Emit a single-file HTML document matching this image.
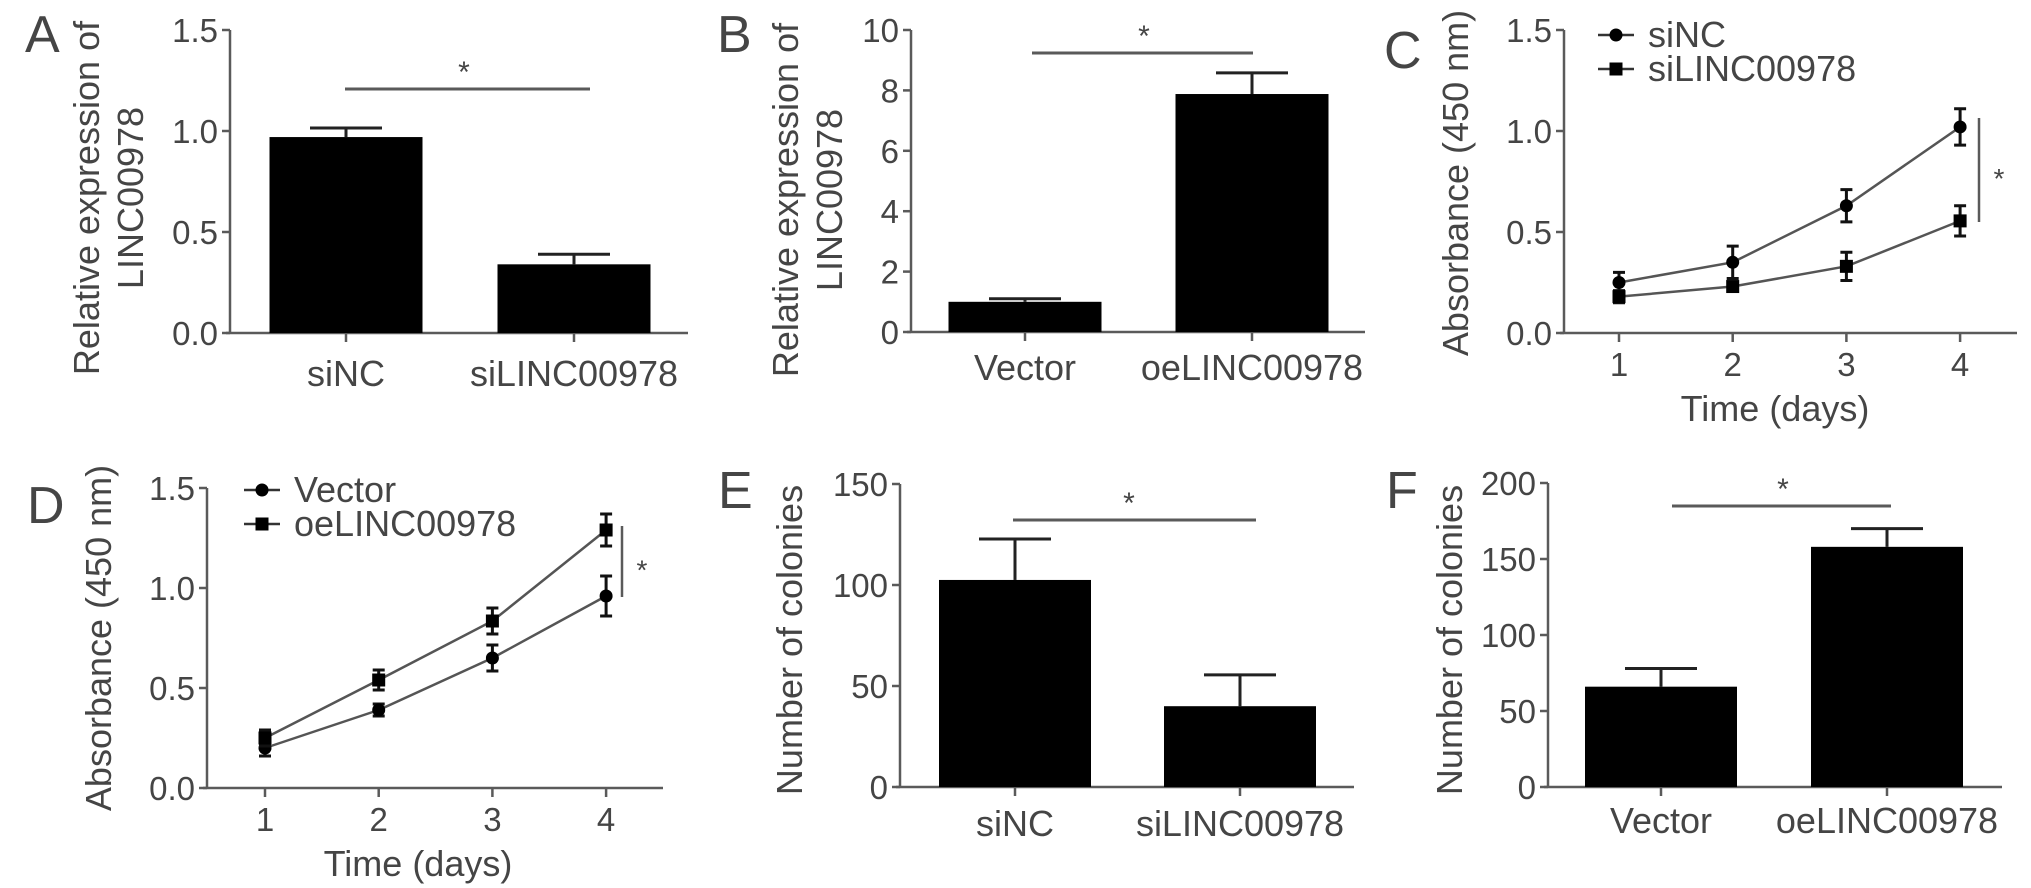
<!DOCTYPE html>
<html><head><meta charset="utf-8"><style>
html,body{margin:0;padding:0;background:#fff}
svg{display:block}
text{font-family:"Liberation Sans",sans-serif;fill:#454545}
</style></head><body>
<svg id="fig" width="2031" height="888" viewBox="0 0 2031 888" xmlns="http://www.w3.org/2000/svg"></svg>
<script>
// Panel A
const aCats = ["siNC", "siLINC00978"];
const aVals = [0.97, 0.34];
const aErrs = [0.045, 0.05];
const aTicks = ["0.0", "0.5", "1.0", "1.5"];
// Panel B
const bCats = ["Vector", "oeLINC00978"];
const bVals = [1.0, 7.88];
const bErrs = [0.1, 0.7];
const bTicks = ["0", "2", "4", "6", "8", "10"];
// Panel C
const cDays = ["1", "2", "3", "4"];
const cSiNC = [0.25, 0.35, 0.63, 1.02];
const cSiNCErr = [0.05, 0.08, 0.08, 0.09];
const cSiLINC = [0.18, 0.23, 0.33, 0.555];
const cSiLINCErr = [0.03, 0.02, 0.07, 0.075];
const cTicks = ["0.0", "0.5", "1.0", "1.5"];
// Panel D
const dDays = ["1", "2", "3", "4"];
const dVector = [0.20, 0.39, 0.65, 0.96];
const dVectorErr = [0.04, 0.03, 0.065, 0.1];
const dOe = [0.25, 0.54, 0.835, 1.29];
const dOeErr = [0.04, 0.05, 0.065, 0.08];
const dTicks = ["0.0", "0.5", "1.0", "1.5"];
// Panel E
const eCats = ["siNC", "siLINC00978"];
const eVals = [102.5, 40];
const eErrs = [20.3, 15.5];
const eTicks = ["0", "50", "100", "150"];
// Panel F
const fCats = ["Vector", "oeLINC00978"];
const fVals = [66, 158];
const fErrs = [12, 12];
const fTicks = ["0", "50", "100", "150", "200"];

const NS = "http://www.w3.org/2000/svg";
const svg = document.getElementById("fig");
function mk(tag, attrs, parent, txt){
  const e = document.createElementNS(NS, tag);
  for (const k in attrs) e.setAttribute(k, attrs[k]);
  if (txt !== undefined) e.textContent = txt;
  (parent || svg).appendChild(e);
  return e;
}
const AX = "#5a5a5a";
const FS = 36;

function axesY(g, p, ticks){
  const ax = mk("line", {x1:p.ax, y1:p.y0, x2:p.ax, y2:p.yTop, stroke:AX, "stroke-width":2.5}, g);
  
  
  ticks.forEach((t, i) => {
    const v = parseFloat(t);
    const y = p.y(v);
    const tk = mk("line", {x1:p.ax-8, y1:y, x2:p.ax, y2:y, stroke:AX, "stroke-width":2.5}, g);
    
    
    const tl = mk("text", {x:p.ax-12, y:y+12, "text-anchor":"end", "font-size":33}, g, t);
    
    
  });
}
function yTitle(g, x, cy, lines){
  lines.forEach((l, i) => {
    const t = mk("text", {x:0, y:0, "text-anchor":"middle", "font-size":FS,
      transform:`translate(${x + i*44},${cy}) rotate(-90)`}, g, l);
    
    
  });
}
function letter(g, x, y, s){
  const t = mk("text", {x:x, y:y, "font-size":52}, g, s);
  
  
}
function sig(g, x1, x2, y, sx){
  const l = mk("line", {x1:x1, y1:y, x2:x2, y2:y, stroke:AX, "stroke-width":3}, g);
  
  
  const s = mk("text", {x:sx, y:y-7, "text-anchor":"middle", "font-size":30}, g, "*");
  
  
}

function barPanel(p){
  const g = mk("g", {});
  
  
  const max = parseFloat(p.ticks[p.ticks.length-1]);
  p.y = v => p.y0 - v / max * (p.y0 - p.yTop);
  const xa = mk("line", {x1:p.ax-4, y1:p.y0, x2:p.xEnd, y2:p.y0, stroke:AX, "stroke-width":2.5}, g);
  
  
  p.cats.forEach((c, i) => {
    const cx = p.centers[i];
    const top = p.y(p.vals[i]);
    const eb = p.y(p.vals[i] + p.errs[i]);
    const el = mk("line", {x1:cx, y1:top, x2:cx, y2:eb, stroke:"#222", "stroke-width":3}, g);
    
    
    const cap = mk("line", {x1:cx-36, y1:eb, x2:cx+36, y2:eb, stroke:"#222", "stroke-width":3}, g);
    
    
    const r = mk("rect", {x:cx-p.bw/2, y:top, width:p.bw, height:p.y0-top, fill:"#000"}, g);
    
    
    const tk = mk("line", {x1:cx, y1:p.y0, x2:cx, y2:p.y0+9, stroke:AX, "stroke-width":2.5}, g);
    
    
    const tl = mk("text", {x:cx, y:p.labelY, "text-anchor":"middle", "font-size":FS}, g, c);
    
    
  });
  axesY(g, p, p.ticks);
  yTitle(g, p.titleX, p.titleY, p.title);
  letter(g, p.letterX, p.letterY, p.letter);
  sig(g, p.sig[0], p.sig[1], p.sig[2], p.sig[3]);
}

function linePanel(p){
  const g = mk("g", {});
  
  
  const max = parseFloat(p.ticks[p.ticks.length-1]);
  p.y = v => p.y0 - v / max * (p.y0 - p.yTop);
  const x = i => p.x1 + i * p.dx;
  const xa = mk("line", {x1:p.ax-4, y1:p.y0, x2:p.xEnd, y2:p.y0, stroke:AX, "stroke-width":2.5}, g);
  
  
  p.days.forEach((d, i) => {
    const tk = mk("line", {x1:x(i), y1:p.y0, x2:x(i), y2:p.y0+9, stroke:AX, "stroke-width":2.5}, g);
    
    
    const tl = mk("text", {x:x(i), y:p.y0+43, "text-anchor":"middle", "font-size":33}, g, d);
    
    
  });
  const xt = mk("text", {x:p.ax+211, y:p.y0+88, "text-anchor":"middle", "font-size":FS}, g, "Time (days)");
  
  
  axesY(g, p, p.ticks);
  yTitle(g, p.ax-96, p.y0-150, ["Absorbance (450 nm)"]);
  letter(g, p.ax-180, p.y0-265, p.letter);
  p.series.forEach((s, si) => {
    const pts = s.vals.map((v, i) => x(i) + "," + p.y(v)).join(" ");
    const pl = mk("polyline", {points:pts, fill:"none", stroke:"#555", "stroke-width":2.5}, g);
    
    
    s.vals.forEach((v, i) => {
      const yt = p.y(v + s.err[i]), yb = p.y(v - s.err[i]);
      const e = mk("path", {d:`M${x(i)},${yt}V${yb}M${x(i)-6},${yt}H${x(i)+6}M${x(i)-6},${yb}H${x(i)+6}`, stroke:"#111", "stroke-width":3, fill:"none"}, g);
      
      
      let m;
      if (s.marker === "circle") m = mk("circle", {cx:x(i), cy:p.y(v), r:6.5, fill:"#000"}, g);
      else m = mk("rect", {x:x(i)-6.5, y:p.y(v)-6.5, width:13, height:13, fill:"#000"}, g);
      
      
    });
    const ly = p.legY + si * 34;
    const ll = mk("line", {x1:p.legX-18, y1:ly, x2:p.legX+18, y2:ly, stroke:"#333", "stroke-width":2.5}, g);
    
    
    let lm;
    if (s.marker === "circle") lm = mk("circle", {cx:p.legX, cy:ly, r:6.5, fill:"#000"}, g);
    else lm = mk("rect", {x:p.legX-6.5, y:ly-6.5, width:13, height:13, fill:"#000"}, g);
    
    
    const lt = mk("text", {x:p.legX+32, y:ly+12, "font-size":FS}, g, s.label);
    
    
  });
  const sl = mk("line", {x1:p.sig[0], y1:p.sig[1], x2:p.sig[0], y2:p.sig[2], stroke:AX, "stroke-width":2.5}, g);
  
  
  const st = mk("text", {x:p.sig[0]+20, y:(p.sig[1]+p.sig[2])/2+18, "text-anchor":"middle", "font-size":28}, g, "*");
  
  
}

barPanel({name:"panel-a", letter:"A", letterX:25, letterY:52, ax:230, y0:333, yTop:30, xEnd:688,
  cats:aCats, vals:aVals, errs:aErrs, ticks:aTicks, centers:[346,574], bw:153, labelY:386,
  title:["Relative expression of","LINC00978"], titleX:99, titleY:198, sig:[345,590,89,464]});
barPanel({name:"panel-b", letter:"B", letterX:717, letterY:52, ax:911, y0:332, yTop:30, xEnd:1365,
  cats:bCats, vals:bVals, errs:bErrs, ticks:bTicks, centers:[1025,1252], bw:153, labelY:380,
  title:["Relative expression of","LINC00978"], titleX:798, titleY:200, sig:[1032,1253,53,1144]});
linePanel({name:"panel-c", letter:"C", ax:1564, y0:333, yTop:30, xEnd:2017, x1:1619, dx:113.7,
  days:cDays, ticks:cTicks, legX:1616, legY:35,
  series:[{key:"sinc", label:"siNC", marker:"circle", vals:cSiNC, err:cSiNCErr},
          {key:"silinc00978", label:"siLINC00978", marker:"square", vals:cSiLINC, err:cSiLINCErr}],
  sig:[1979,118,222]});
linePanel({name:"panel-d", letter:"D", ax:207, y0:788, yTop:488, xEnd:663, x1:265, dx:113.7,
  days:dDays, ticks:dTicks, legX:262, legY:490,
  series:[{key:"vector", label:"Vector", marker:"circle", vals:dVector, err:dVectorErr},
          {key:"oelinc00978", label:"oeLINC00978", marker:"square", vals:dOe, err:dOeErr}],
  sig:[622,526,597]});
barPanel({name:"panel-e", letter:"E", letterX:718, letterY:508, ax:900, y0:787, yTop:484, xEnd:1354,
  cats:eCats, vals:eVals, errs:eErrs, ticks:eTicks, centers:[1015,1240], bw:152, labelY:836,
  title:["Number of colonies"], titleX:802, titleY:640, sig:[1013,1256,520,1129]});
barPanel({name:"panel-f", letter:"F", letterX:1386, letterY:508, ax:1548, y0:787, yTop:483, xEnd:2002,
  cats:fCats, vals:fVals, errs:fErrs, ticks:fTicks, centers:[1661,1887], bw:152, labelY:833,
  title:["Number of colonies"], titleX:1462, titleY:640, sig:[1672,1891,506,1783]});
</script>
</body></html>
